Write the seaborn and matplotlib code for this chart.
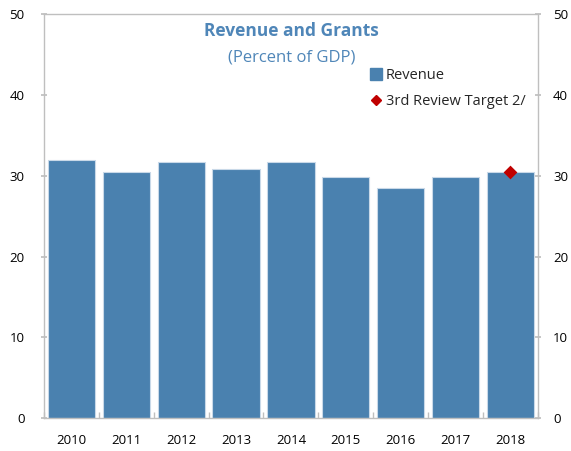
import matplotlib
matplotlib.use("Agg")
import matplotlib.pyplot as plt
import seaborn as sns
import pandas as pd
import numpy as np
from matplotlib.lines import Line2D

years = ["2010", "2011", "2012", "2013", "2014", "2015", "2016", "2017", "2018"]
revenue = [31.9, 30.4, 31.7, 30.8, 31.7, 29.9, 28.5, 29.9, 30.4]
target_years = ["2018"]
target_values = [30.5]
yticks = [0, 10, 20, 30, 40, 50]

bar_color = "#4A81AF"
red = "#C00000"
title_color = "#4F86B8"

sns.set_theme(style="white")
plt.rcParams['font.family'] = ['Open Sans', 'DejaVu Sans']

fig = plt.figure(figsize=(5.71, 4.51), dpi=100)
ax = fig.add_axes([0.077, 0.0725, 0.865, 0.8965])

df = pd.DataFrame({"year": years, "revenue": revenue})
sns.barplot(data=df, x="year", y="revenue", order=years, color=bar_color,
            saturation=1, width=0.86, edgecolor="#C9D9E8", linewidth=0.8, ax=ax)

tdf = pd.DataFrame({"year": target_years, "target": target_values})
sns.stripplot(data=tdf, x="year", y="target", order=years, jitter=False,
              marker="D", color=red, size=7, linewidth=0, ax=ax, zorder=5)

ax.set_xlim(-0.5, len(years) - 0.5)
ax.set_ylim(0, 50)
ax.set_yticks(yticks)
ax.set_xlabel("")
ax.set_ylabel("")
for s in ax.spines.values():
    s.set_color("#BFBFBF")
    s.set_linewidth(1.0)
ax.tick_params(axis="y", which="both", left=True, length=4, direction="inout",
               color="#BFBFBF", labelsize=9.5, pad=12, labelcolor="#000000")
ax.tick_params(axis="x", which="major", bottom=False, labelsize=9.5, pad=5,
               labelcolor="#000000")
ax.set_xticks(np.arange(-0.5, len(years), 1), minor=True)
ax.tick_params(axis="x", which="minor", bottom=True, length=4, direction="in",
               color="#BFBFBF")

ax2 = ax.twinx()
ax2.set_ylim(0, 50)
ax2.set_yticks(yticks)
ax2.tick_params(axis="y", right=True, length=4, direction="inout", color="#BFBFBF",
                labelsize=9.5, pad=9, labelcolor="#000000")
for s in ax2.spines.values():
    s.set_visible(False)

fig.text(0.511, 0.931, "Revenue and Grants", ha="center", va="center",
         fontsize=12.5, fontweight="bold", color=title_color)
fig.text(0.511, 0.873, "(Percent of GDP)", ha="center", va="center",
         fontsize=12, color=title_color)

handles = [
    Line2D([], [], linestyle="none", marker="s", markersize=8,
           markerfacecolor=bar_color, markeredgecolor=bar_color),
    Line2D([], [], linestyle="none", marker="D", markersize=5,
           markerfacecolor=red, markeredgecolor=red),
]
ax.legend(handles, ["Revenue", "3rd Review Target 2/"], loc="upper left",
          bbox_to_anchor=(0.645, 0.88), frameon=False, fontsize=10.5,
          handletextpad=0.2, handlelength=1.0, labelspacing=0.75,
          borderaxespad=0)

fig.savefig("out.png", dpi=100)
